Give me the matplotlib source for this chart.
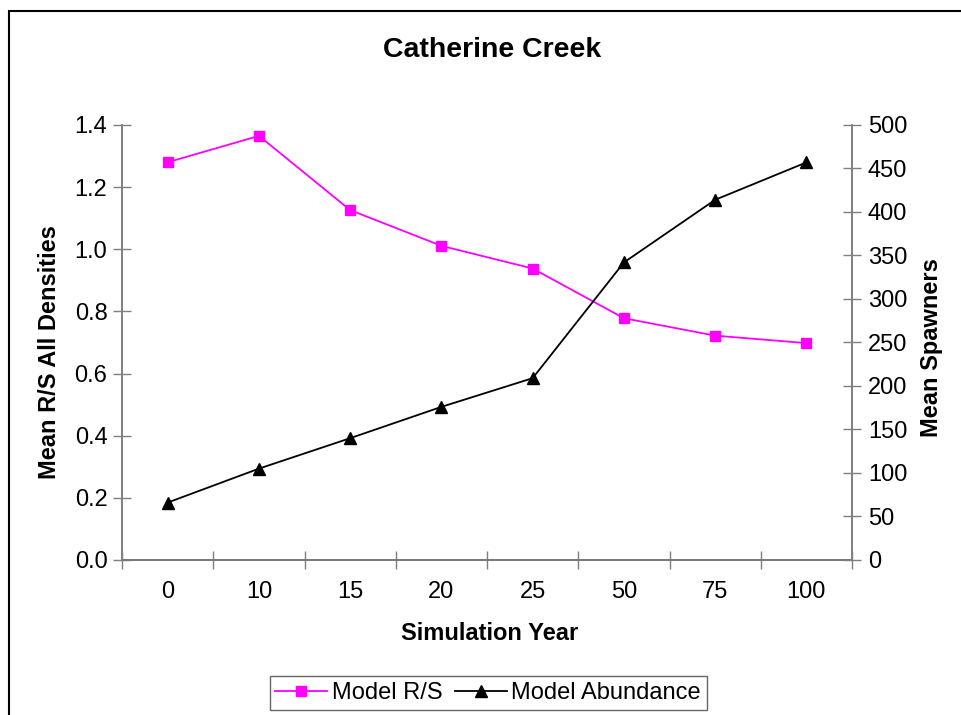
import matplotlib
matplotlib.use("Agg")
import matplotlib.pyplot as plt
from matplotlib.patches import Rectangle
from matplotlib.ticker import FixedLocator, FormatStrFormatter

plt.rcParams["font.family"] = ["Liberation Sans", "DejaVu Sans"]

years = ["0", "10", "15", "20", "25", "50", "75", "100"]
model_rs = [1.28, 1.365, 1.126, 1.011, 0.938, 0.778, 0.722, 0.698]
model_abundance = [66, 105, 140, 176, 209, 342, 414, 457]

AXIS_GREY = "#7f7f7f"

fig = plt.figure(figsize=(9.61, 7.15), dpi=100)
ax = fig.add_axes([0.127, 0.2168, 0.7596, 0.6084])
ax2 = ax.twinx()

x = list(range(len(years)))
l1, = ax.plot(x, model_rs, color="#ff00ff", lw=1.3, marker="s", ms=7,
              mec="#ff00ff", mfc="#ff00ff", label="Model R/S", zorder=3)
l2, = ax2.plot(x, model_abundance, color="black", lw=1.3, marker="^", ms=8,
               label="Model Abundance", zorder=3)

ax.set_xlim(-0.5, len(years) - 0.5)
ax.set_ylim(0, 1.4)
ax2.set_ylim(0, 500)
ax.set_yticks([0, 0.2, 0.4, 0.6, 0.8, 1.0, 1.2, 1.4])
ax.yaxis.set_major_formatter(FormatStrFormatter("%.1f"))
ax2.set_yticks(range(0, 501, 50))

ax.set_xticks(x)
ax.set_xticklabels(years)
ax.xaxis.set_minor_locator(FixedLocator([i - 0.5 for i in range(len(years) + 1)]))
ax.tick_params(axis="x", which="major", length=0, pad=15, labelsize=17)
ax.tick_params(axis="x", which="minor", direction="inout", length=13,
               color=AXIS_GREY, width=1)
ax.tick_params(axis="y", direction="inout", length=13, color=AXIS_GREY,
               width=1, pad=4, labelsize=17)
ax2.tick_params(axis="y", direction="inout", length=13, color=AXIS_GREY,
                width=1, pad=5, labelsize=17)

for a in (ax, ax2):
    a.spines["top"].set_visible(False)
    for s in ("left", "right", "bottom"):
        a.spines[s].set_color(AXIS_GREY)
        a.spines[s].set_linewidth(1.2)
ax.spines["bottom"].set_color("#404040")

ax.set_xlabel("Simulation Year", fontsize=17, fontweight="bold", va="top")
ax.xaxis.set_label_coords(0.503, -0.143)
ax.set_ylabel("Mean R/S All Densities", fontsize=17, fontweight="bold",
              va="center")
ax.yaxis.set_label_coords(-0.099, 0.477)
ax2.set_ylabel("Mean Spawners", fontsize=17, fontweight="bold", va="center")
ax2.yaxis.set_label_coords(1.109, 0.489)

fig.text(0.512, 0.93, "Catherine Creek", fontsize=20.5, fontweight="bold",
         ha="center", va="center")

leg = fig.legend([l1, l2], ["Model R/S", "Model Abundance"], loc="center",
                 bbox_to_anchor=(0.508, 0.031), ncol=2, fontsize=17,
                 frameon=True, fancybox=False, handlelength=2.2,
                 handletextpad=0.2, columnspacing=0.5, borderpad=0.25)
leg.get_frame().set_edgecolor("#404040")
leg.get_frame().set_linewidth(1.0)

fig.patches.append(Rectangle((9 / 961, -0.2), 2, 1.2 - 11 / 715, fill=False,
                             edgecolor="black", lw=1.5,
                             transform=fig.transFigure, clip_on=False))

fig.savefig("out.png", dpi=100)
